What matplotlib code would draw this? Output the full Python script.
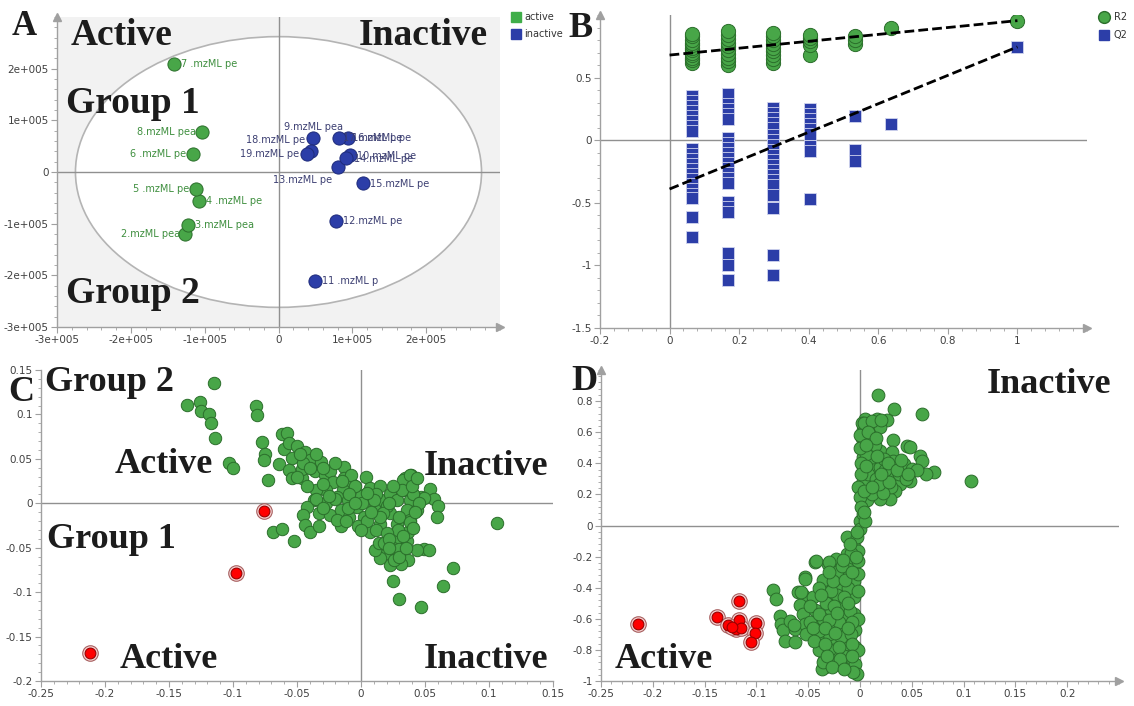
import matplotlib
matplotlib.use("Agg")
import matplotlib.pyplot as plt
from matplotlib.patches import Ellipse, Rectangle
from matplotlib.lines import Line2D
from matplotlib.ticker import AutoMinorLocator

# ============ data ============
# A: PCA score plot (t1, t2)
active_names = ['2.mzML pea', '3.mzML pea', '4 .mzML pe', '5 .mzML pe', '6 .mzML pe', '7 .mzML pe', '8.mzML pea']
active_t1 = [-1.26e5, -1.23e5, -1.08e5, -1.12e5, -1.16e5, -1.41e5, -1.03e5]
active_t2 = [-1.20e5, -1.03e5, -0.57e5, -0.32e5, 0.35e5, 2.09e5, 0.77e5]

inactive_names = ['9.mzML pea', '10.mzML pe', '11 .mzML p', '12.mzML pe', '13.mzML pe', '14.mzML pe',
                  '15.mzML pe', '16.mzML pe', '17.mzML pe', '18.mzML pe', '19.mzML pe']
inactive_t1 = [0.47e5, 0.97e5, 0.49e5, 0.78e5, 0.80e5, 0.91e5, 1.15e5, 0.94e5, 0.82e5, 0.44e5, 0.38e5]
inactive_t2 = [0.65e5, 0.33e5, -2.11e5, -0.94e5, 0.10e5, 0.28e5, -0.21e5, 0.66e5, 0.65e5, 0.41e5, 0.35e5]

a_ticks = [-3e5, -2e5, -1e5, 0, 1e5, 2e5]
a_ticklabels = ['-3e+005', '-2e+005', '-1e+005', '0', '1e+005', '2e+005']
ellipse_t1, ellipse_t2 = 2.75e5, 2.62e5   # Hotelling T2 semi axes

# B: permutation test
perm_cols = [0.065, 0.168, 0.298, 0.403, 0.533, 0.637, 1.0]
r2_by_col = [
    [0.62, 0.64, 0.66, 0.68, 0.70, 0.72, 0.74, 0.76, 0.78, 0.80, 0.83, 0.85],
    [0.60, 0.63, 0.66, 0.69, 0.72, 0.75, 0.78, 0.81, 0.84, 0.87],
    [0.62, 0.65, 0.68, 0.71, 0.74, 0.77, 0.80, 0.83, 0.86],
    [0.68, 0.76, 0.79, 0.82, 0.84],
    [0.77, 0.80, 0.83],
    [0.90],
    [0.955],
]
q2_by_col = [
    [0.35, 0.31, 0.27, 0.23, 0.19, 0.15, 0.11, 0.07, -0.07, -0.11, -0.15, -0.19, -0.23, -0.27,
     -0.31, -0.35, -0.39, -0.43, -0.46, -0.61, -0.77],
    [0.37, 0.29, 0.25, 0.21, 0.17, 0.02, -0.02, -0.06, -0.10, -0.14, -0.18, -0.22, -0.26, -0.30,
     -0.34, -0.49, -0.53, -0.57, -0.90, -1.00, -1.12],
    [0.26, 0.22, 0.18, 0.14, 0.10, 0.04, 0.00, -0.04, -0.08, -0.12, -0.16, -0.20, -0.24, -0.28,
     -0.32, -0.36, -0.44, -0.54, -0.92, -1.08],
    [0.25, 0.21, 0.17, 0.13, 0.09, 0.05, -0.05, -0.09, -0.47],
    [0.19, -0.08, -0.17],
    [0.13],
    [0.745],
]
r2_intercept = 0.68
q2_intercept = -0.39

# C: loading plot
c_green = [
    (-0.115, 0.135), (-0.136, 0.111), (-0.126, 0.114), (-0.125, 0.104), (-0.119, 0.100), (-0.117, 0.090),
    (-0.114, 0.074), (-0.082, 0.110), (-0.081, 0.099), (-0.077, 0.069), (-0.075, 0.056), (-0.076, 0.049),
    (-0.073, 0.026), (-0.103, 0.045), (-0.100, 0.040), (-0.064, 0.044),
    (-0.069, -0.032), (-0.062, -0.029), (-0.052, -0.042),
    (0.106, -0.022), (0.072, -0.073), (0.064, -0.093), (0.025, -0.088), (0.030, -0.108), (0.047, -0.117),
    (0.054, 0.016), (0.047, 0.0075), (0.057, 0.0045), (0.060, -0.003), (0.059, -0.015),
    (0.049, -0.052), (0.053, -0.053), (0.044, -0.053), (0.039, 0.032), (0.034, 0.028),
    (-0.062, 0.078), (-0.058, 0.079), (-0.060, 0.061), (-0.056, 0.068), (-0.050, 0.064), (-0.044, 0.058),
    (-0.054, 0.051), (-0.056, 0.038), (-0.054, 0.028), (-0.046, 0.028), (-0.046, 0.039), (-0.040, 0.049),
    (-0.036, 0.036), (-0.031, 0.047), (-0.028, 0.032), (-0.024, 0.036), (-0.022, 0.024), (-0.013, 0.041),
    (-0.013, 0.028), (-0.006, 0.021), (0.004, 0.030), (0.007, 0.017), (0.002, 0.009), (-0.014, 0.015),
    (-0.019, 0.007), (-0.027, 0.015), (-0.035, 0.015), (-0.037, 0.004),
    (-0.045, 0.045), (-0.050, 0.030), (-0.035, 0.055), (-0.020, 0.045), (-0.030, 0.022), (-0.042, 0.020),
    (-0.008, 0.032),
    (-0.042, -0.004), (-0.045, -0.013), (-0.044, -0.024), (-0.040, -0.032), (-0.033, -0.026), (-0.033, -0.011),
    (-0.027, 0.000), (-0.024, -0.013), (-0.016, -0.008), (-0.010, 0.004), (-0.003, -0.004), (-0.009, -0.015),
    (0.002, -0.015), (-0.016, -0.026), (-0.002, -0.026), (0.007, -0.032), (0.015, 0.019), (0.016, 0.004),
    (0.023, 0.011), (0.028, 0.004), (0.033, 0.015), (0.033, 0.026), (0.038, 0.032), (0.038, 0.004),
    (0.036, -0.008), (0.023, -0.011), (0.015, -0.023), (0.028, -0.023), (0.038, -0.019), (0.044, -0.008),
    (0.049, 0.006), (0.041, 0.011), (0.045, 0.000), (0.032, 0.015),
    (-0.035, 0.005), (-0.030, -0.005), (-0.020, 0.005), (-0.010, -0.005), (0.000, 0.008), (0.010, -0.005),
    (0.020, -0.003), (0.030, -0.015), (0.005, -0.020), (-0.005, 0.020), (0.012, 0.010), (0.025, 0.020),
    (-0.015, 0.025), (0.010, 0.004), (0.0005, 0.0), (0.017, -0.011), (-0.019, -0.019), (-0.009, 0.011),
    (-0.025, 0.008), (-0.005, 0.000), (0.005, 0.012), (0.015, -0.015), (0.022, 0.000), (0.008, -0.010),
    (-0.012, -0.020), (0.000, -0.030), (0.012, -0.030), (0.040, 0.020), (0.044, 0.028), (-0.048, 0.055),
    (-0.040, 0.040), (-0.030, 0.040),
    (0.020, -0.056), (0.032, -0.060), (0.037, -0.064), (0.031, -0.068), (0.023, -0.069), (0.015, -0.062),
    (0.011, -0.053), (0.014, -0.045), (0.028, -0.043), (0.036, -0.043), (0.037, -0.032), (0.029, -0.030),
    (0.020, -0.034), (0.038, -0.021), (0.042, -0.010), (0.025, -0.050), (0.018, -0.045), (0.030, -0.052),
    (0.022, -0.040), (0.033, -0.037), (0.041, -0.028), (0.026, -0.064), (0.022, -0.050), (0.030, -0.060),
    (0.035, -0.050),
]
c_red = [(-0.076, -0.009), (-0.098, -0.079), (-0.212, -0.169)]

# D
d_green = [
    (0.017, 0.842), (0.033, 0.750), (0.060, 0.714), (0.107, 0.289), (0.071, 0.343), (0.064, 0.332),
    (0.045, 0.514), (0.048, 0.504), (0.058, 0.444), (0.060, 0.414), (0.032, 0.551), (0.026, 0.680),
    (0.016, 0.686), (0.005, 0.686), (0.010, 0.643), (0.011, 0.611), (0.003, 0.611), (0.019, 0.632),
    (0.008, 0.536), (0.003, 0.504), (0.019, 0.482), (0.031, 0.471), (0.032, 0.418), (0.042, 0.397),
    (0.050, 0.365), (0.055, 0.354), (0.048, 0.289), (0.039, 0.268), (0.034, 0.225), (0.029, 0.172),
    (0.019, 0.172), (0.016, 0.246), (0.010, 0.289), (0.003, 0.289), (0.003, 0.375), (0.010, 0.375),
    (0.019, 0.375), (0.026, 0.311), (0.002, 0.204), (0.002, 0.118), (0.007, 0.161), (0.000, 0.032),
    (0.000, -0.021), (0.003, 0.440), (0.013, 0.440), (0.023, 0.429), (-0.002, 0.246), (0.000, 0.182),
    (0.003, 0.075), (0.005, 0.032), (0.002, 0.56), (0.002, 0.66), (0.006, 0.58), (0.014, 0.52),
    (0.024, 0.36), (0.038, 0.33), (0.044, 0.30), (0.030, 0.25), (0.012, 0.20), (0.022, 0.21),
    (0.008, 0.33), (0.015, 0.30), (0.027, 0.40), (0.006, 0.46), (0.001, 0.40), (0.001, 0.33),
    (0.000, 0.50), (0.000, 0.58), (0.004, 0.66), (0.012, 0.67), (0.020, 0.68), (0.008, 0.60),
    (0.015, 0.56), (0.004, 0.22), (0.001, 0.12), (0.004, 0.09), (0.018, 0.27), (0.028, 0.28),
    (0.036, 0.36), (0.046, 0.33), (0.040, 0.42), (0.020, 0.33), (0.012, 0.25), (0.006, 0.38),
    (0.016, 0.45), (0.006, 0.52),
    (-0.013, -0.071), (-0.043, -0.236), (-0.031, -0.246), (-0.023, -0.214), (-0.013, -0.182),
    (-0.006, -0.139), (-0.003, -0.075), (-0.053, -0.332), (-0.084, -0.418), (-0.081, -0.471),
    (-0.077, -0.579), (-0.076, -0.632), (-0.074, -0.675), (-0.072, -0.740), (-0.063, -0.750),
    (-0.063, -0.664), (-0.068, -0.611), (-0.060, -0.429), (-0.055, -0.450), (-0.058, -0.514),
    (-0.055, -0.568), (-0.053, -0.632), (-0.052, -0.696), (-0.045, -0.461), (-0.043, -0.546),
    (-0.042, -0.632), (-0.039, -0.718), (-0.039, -0.793), (-0.035, -0.868), (-0.034, -0.911),
    (-0.032, -0.397), (-0.031, -0.482), (-0.029, -0.568), (-0.027, -0.654), (-0.026, -0.740),
    (-0.024, -0.825), (-0.023, -0.889), (-0.019, -0.332), (-0.018, -0.418), (-0.016, -0.504),
    (-0.016, -0.590), (-0.015, -0.675), (-0.013, -0.761), (-0.011, -0.847), (-0.008, -0.932),
    (-0.006, -0.246), (-0.006, -0.354), (-0.006, -0.461), (-0.006, -0.568), (-0.005, -0.675),
    (-0.005, -0.782), (-0.005, -0.889), (-0.003, -0.954), (-0.002, -0.161), (-0.002, -0.311),
    (-0.037, -0.921), (-0.007, -0.942), (-0.036, -0.878), (-0.040, -0.803), (-0.026, -0.803),
    (-0.064, -0.642), (-0.057, -0.427), (-0.042, -0.227), (-0.053, -0.341), (-0.030, -0.234),
    (-0.036, -0.60), (-0.033, -0.50), (-0.022, -0.45), (-0.012, -0.40), (-0.022, -0.30), (-0.012, -0.28),
    (-0.036, -0.35), (-0.048, -0.62), (-0.020, -0.62), (-0.010, -0.55), (-0.030, -0.70), (-0.018, -0.72),
    (-0.009, -0.70), (-0.015, -0.84), (-0.030, -0.80), (-0.040, -0.68), (-0.048, -0.52), (-0.002, -0.42),
    (-0.002, -0.60), (-0.002, -0.80), (-0.002, -0.23), (-0.009, -0.18), (-0.017, -0.26),
    (-0.040, -0.40), (-0.028, -0.42), (-0.015, -0.46), (-0.038, -0.45), (-0.025, -0.52), (-0.012, -0.50),
    (-0.040, -0.57), (-0.030, -0.61), (-0.022, -0.56), (-0.008, -0.62), (-0.045, -0.66), (-0.034, -0.66),
    (-0.024, -0.69), (-0.012, -0.66), (-0.044, -0.74), (-0.034, -0.76), (-0.020, -0.78), (-0.008, -0.76),
    (-0.032, -0.84), (-0.019, -0.86), (-0.008, -0.84), (-0.027, -0.91), (-0.015, -0.92), (-0.026, -0.36),
    (-0.014, -0.35), (-0.030, -0.30), (-0.008, -0.30), (-0.016, -0.22), (-0.004, -0.20), (-0.010, -0.12),
    (-0.003, -0.04),
]
d_red = [(-0.214, -0.635), (-0.117, -0.487), (-0.138, -0.590), (-0.127, -0.640), (-0.120, -0.663),
         (-0.117, -0.609), (-0.115, -0.657), (-0.100, -0.624), (-0.101, -0.690), (-0.105, -0.749),
         (-0.124, -0.654)]

# ============ style ============
W, H = 1134, 706
GREEN, GREEN_EDGE = '#48a648', '#2b6e2b'
BLUE, BLUE_EDGE = '#2c3ea8', '#1e2b7a'
AX_GRAY = '#a0a0a0'
TICK_COL = '#404040'
BIG = dict(family='Liberation Serif', weight='bold', color='#1c1c1c')

fig = plt.figure(figsize=(W / 100, H / 100), dpi=100)


def add_axes_px(x0, y0, x1, y1):
    return fig.add_axes([x0 / W, 1 - y1 / H, (x1 - x0) / W, (y1 - y0) / H])


def fig_text(x, y, s, size, **kw):
    fig.text(x / W, 1 - y / H, s, fontsize=size, va='baseline', ha='left', **kw)


def style_axes(ax, xticks, xlabels, yticks, ylabels, arrows=True):
    for s in ['top', 'right']:
        ax.spines[s].set_visible(False)
    for s in ['left', 'bottom']:
        ax.spines[s].set_color(AX_GRAY)
        ax.spines[s].set_linewidth(1.0)
    ax.set_xticks(xticks)
    ax.set_xticklabels(xlabels)
    ax.set_yticks(yticks)
    ax.set_yticklabels(ylabels)
    ax.xaxis.set_minor_locator(AutoMinorLocator(5))
    ax.yaxis.set_minor_locator(AutoMinorLocator(5))
    ax.tick_params(which='both', direction='out', color=AX_GRAY, labelsize=7.5,
                   labelcolor=TICK_COL, pad=2)
    ax.tick_params(which='major', length=4)
    ax.tick_params(which='minor', length=2)
    ax.axhline(0, color='#909090', lw=1, zorder=1)
    ax.axvline(0, color='#909090', lw=1, zorder=1)
    if arrows:
        ax.plot([0], [1], marker='^', ms=6, color=AX_GRAY, transform=ax.transAxes, clip_on=False)
        ax.plot([1], [0], marker='>', ms=6, color=AX_GRAY, transform=ax.transAxes, clip_on=False)


def fmt(v):
    return '%g' % round(v, 3)


# ============ A ============
axA = add_axes_px(57, 17, 500, 327)
axA.set_facecolor('#f2f2f2')
axA.set_xlim(-3e5, 3e5)
axA.set_ylim(-3e5, 3e5)
style_axes(axA, a_ticks, a_ticklabels, a_ticks, a_ticklabels)
axA.add_patch(Ellipse((0, 0), 2 * ellipse_t1, 2 * ellipse_t2, facecolor='white',
                      edgecolor='#b4b4b4', lw=1.2, zorder=0.5))
axA.scatter(active_t1, active_t2, s=90, c=GREEN, edgecolors=GREEN_EDGE, linewidths=0.7, zorder=3)
axA.scatter(inactive_t1, inactive_t2, s=90, c=BLUE, edgecolors=BLUE_EDGE, linewidths=0.7, zorder=3)

active_off = [(-4, 0, 'right'), (5, 0, 'left'), (5, 0, 'left'), (-5, 0, 'right'),
              (-5, 0, 'right'), (5, 0, 'left'), (-5, 0, 'right')]
inactive_off = [(0, 8.5, 'center'), (5, -1, 'left'), (5, 0, 'left'), (5, 0, 'left'),
                (-4, -9.5, 'right'), (6, -1, 'left'), (5, -1, 'left'), (3, 0, 'left'),
                (3, 0, 'left'), (-4, 7.5, 'right'), (-5, 0, 'right')]
for n, x, y, (dx, dy, ha) in zip(active_names, active_t1, active_t2, active_off):
    axA.annotate(n, (x, y), xytext=(dx, dy), textcoords='offset points', ha=ha, va='center',
                 fontsize=7, color='#3f8f3f', zorder=4)
for n, x, y, (dx, dy, ha) in zip(inactive_names, inactive_t1, inactive_t2, inactive_off):
    axA.annotate(n, (x, y), xytext=(dx, dy), textcoords='offset points', ha=ha, va='center',
                 fontsize=7, color='#3c3f72', zorder=4)

# legend A
fig.add_artist(Rectangle((511 / W, 1 - 22 / H), 10 / W, 10 / H, color='#3fae49', transform=fig.transFigure))
fig.add_artist(Rectangle((511 / W, 1 - 39 / H), 10 / W, 10 / H, color=BLUE, transform=fig.transFigure))
fig_text(524, 20, 'active', 7, color='#333333')
fig_text(524, 37, 'inactive', 7, color='#333333')

fig_text(12, 35, 'A', 25, **BIG)
fig_text(71, 45, 'Active', 27, **BIG)
fig_text(359, 45, 'Inactive', 27, **BIG)
fig_text(66, 113, 'Group 1', 27, **BIG)
fig_text(66, 303, 'Group 2', 27, **BIG)

# ============ B ============
axB = add_axes_px(600, 15, 1087, 328)
axB.set_xlim(-0.2, 1.2)
axB.set_ylim(-1.5, 1.0)
b_xt = [-0.2, 0, 0.2, 0.4, 0.6, 0.8, 1.0]
b_yt = [-1.5, -1.0, -0.5, 0, 0.5]
style_axes(axB, b_xt, [fmt(v) for v in b_xt], b_yt, [fmt(v) for v in b_yt])
r2x = [c for c, col in zip(perm_cols, r2_by_col) for _ in col]
r2y = [v for col in r2_by_col for v in col]
q2x = [c for c, col in zip(perm_cols, q2_by_col) for _ in col]
q2y = [v for col in q2_by_col for v in col]
axB.scatter(q2x, q2y, s=64, marker='s', c=BLUE, edgecolors='#d0d4ee', linewidths=0.6, zorder=3)
axB.scatter(r2x, r2y, s=105, c=GREEN, edgecolors=GREEN_EDGE, linewidths=0.7, zorder=3)
axB.plot([0, perm_cols[-1]], [r2_intercept, r2_by_col[-1][0]], ls=(0, (3.5, 1.5)), color='black', lw=2, zorder=4)
axB.plot([0, perm_cols[-1]], [q2_intercept, q2_by_col[-1][0]], ls=(0, (3.5, 1.5)), color='black', lw=2, zorder=4)

fig.add_artist(Line2D([1104 / W], [1 - 17 / H], marker='o', ms=8.5, color=GREEN, mec=GREEN_EDGE,
                      transform=fig.transFigure))
fig.add_artist(Line2D([1104 / W], [1 - 35 / H], marker='s', ms=7.5, color=BLUE, mec=BLUE,
                      transform=fig.transFigure))
fig_text(1114, 20, 'R2', 7, color='#333333')
fig_text(1114, 38, 'Q2', 7, color='#333333')
fig_text(568, 37, 'B', 26, **BIG)

# ============ C ============
axC = add_axes_px(41, 370, 553, 681)
axC.set_xlim(-0.25, 0.15)
axC.set_ylim(-0.2, 0.15)
c_xt = [-0.25, -0.2, -0.15, -0.1, -0.05, 0, 0.05, 0.1, 0.15]
c_yt = [-0.2, -0.15, -0.1, -0.05, 0, 0.05, 0.1, 0.15]
style_axes(axC, c_xt, [fmt(v) for v in c_xt], c_yt, [fmt(v) for v in c_yt], arrows=False)
axC.scatter([p[0] for p in c_green], [p[1] for p in c_green], s=80, c=GREEN,
            edgecolors=GREEN_EDGE, linewidths=0.7, zorder=3)
axC.scatter([p[0] for p in c_red], [p[1] for p in c_red], s=125, c='#f3d2d2',
            edgecolors='#a86060', linewidths=0.8, zorder=4)
axC.scatter([p[0] for p in c_red], [p[1] for p in c_red], s=60, c='#ff0000',
            edgecolors='#9a0000', linewidths=0.8, zorder=5)

fig_text(8, 401, 'C', 26, **BIG)
fig_text(45, 391, 'Group 2', 26, **BIG)
fig_text(115, 473, 'Active', 26, **BIG)
fig_text(424, 475, 'Inactive', 26, **BIG)
fig_text(47, 548, 'Group 1', 26, **BIG)
fig_text(120, 668, 'Active', 26, **BIG)
fig_text(424, 668, 'Inactive', 26, **BIG)

# ============ D ============
axD = add_axes_px(601, 370, 1119, 681)
axD.set_xlim(-0.25, 0.25)
axD.set_ylim(-1.0, 1.0)
d_xt = [-0.25, -0.2, -0.15, -0.1, -0.05, 0, 0.05, 0.1, 0.15, 0.2]
d_yt = [-1.0, -0.8, -0.6, -0.4, -0.2, 0, 0.2, 0.4, 0.6, 0.8]
style_axes(axD, d_xt, [fmt(v) for v in d_xt], d_yt, [fmt(v) for v in d_yt])
axD.scatter([p[0] for p in d_green], [p[1] for p in d_green], s=85, c=GREEN,
            edgecolors=GREEN_EDGE, linewidths=0.7, zorder=3)
axD.scatter([p[0] for p in d_red], [p[1] for p in d_red], s=125, c='#f3d2d2',
            edgecolors='#a86060', linewidths=0.8, zorder=4)
axD.scatter([p[0] for p in d_red], [p[1] for p in d_red], s=60, c='#ff0000',
            edgecolors='#9a0000', linewidths=0.8, zorder=5)

fig_text(571, 390, 'D', 26, **BIG)
fig_text(987, 393, 'Inactive', 26, **BIG)
fig_text(615, 668, 'Active', 26, **BIG)

fig.savefig('out.png', dpi=100)
